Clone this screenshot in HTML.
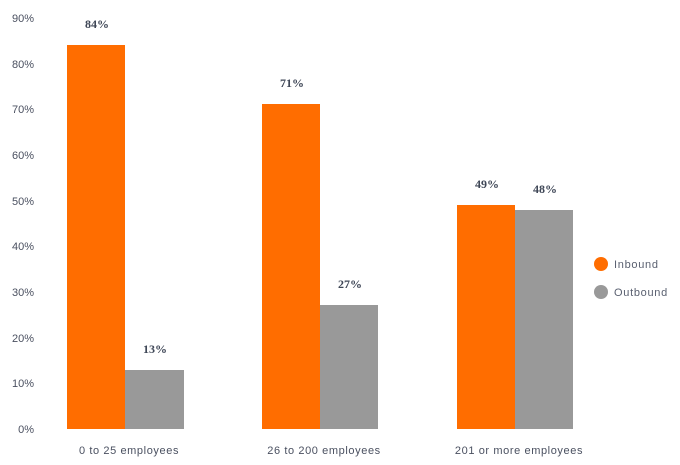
<!DOCTYPE html>
<html><head><meta charset="utf-8"><style>body{margin:0;background:#fff}svg{display:block}</style></head><body>
<svg width="680" height="465" xmlns="http://www.w3.org/2000/svg" font-family="Liberation Sans, sans-serif">
<g fill="#4a5060" font-size="11" text-anchor="end">
<text x="34" y="22">90%</text><text x="34" y="68">80%</text><text x="34" y="113">70%</text>
<text x="34" y="159">60%</text><text x="34" y="205">50%</text><text x="34" y="250">40%</text>
<text x="34" y="296">30%</text><text x="34" y="342">20%</text><text x="34" y="387">10%</text>
<text x="34" y="433">0%</text>
</g>
<g fill="#ff6d00">
<rect x="67" y="45" width="58" height="384"/>
<rect x="262" y="104" width="58" height="325"/>
<rect x="457" y="205" width="58" height="224"/>
</g>
<g fill="#999">
<rect x="125" y="370" width="59" height="59"/>
<rect x="320" y="305" width="58" height="124"/>
<rect x="515" y="210" width="58" height="219"/>
</g>
<g fill="#3e4656" font-size="12" font-weight="bold" text-anchor="middle" font-family="Liberation Serif, serif">
<text x="97" y="28">84%</text><text x="155" y="353">13%</text>
<text x="292" y="87">71%</text><text x="350" y="288">27%</text>
<text x="487" y="188">49%</text><text x="545" y="193">48%</text>
</g>
<g fill="#4a5060" font-size="11" text-anchor="middle" letter-spacing="0.6">
<text x="129" y="454">0 to 25 employees</text>
<text x="324" y="454">26 to 200 employees</text>
<text x="519" y="454">201 or more employees</text>
</g>
<circle cx="601" cy="264" r="7" fill="#ff6d00"/>
<circle cx="601" cy="292" r="7" fill="#999"/>
<g fill="#5a6070" font-size="11" letter-spacing="0.7">
<text x="614" y="268">Inbound</text><text x="614" y="296">Outbound</text>
</g>
</svg>
</body></html>
